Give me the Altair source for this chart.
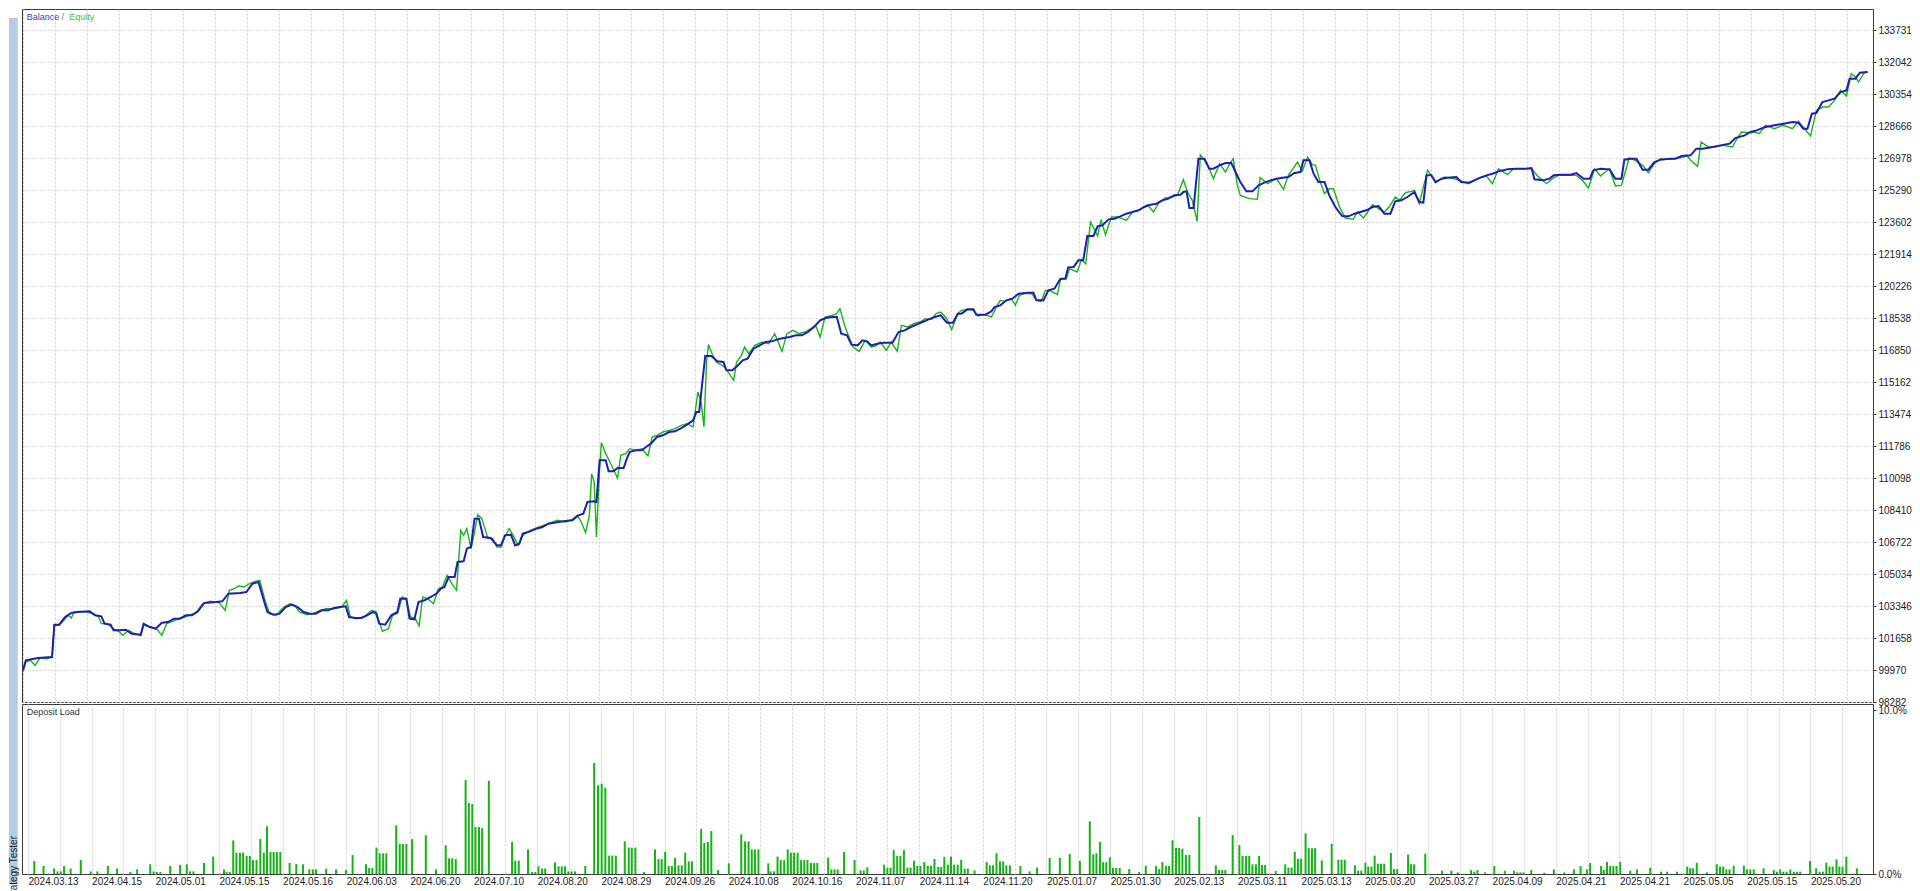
import altair as alt
import pandas as pd

# ---------------- data ----------------
x_labels = ["2024.03.13", "2024.04.15", "2024.05.01", "2024.05.15", "2024.05.16", "2024.06.03",
            "2024.06.20", "2024.07.10", "2024.08.20", "2024.08.29", "2024.09.26", "2024.10.08",
            "2024.10.16", "2024.11.07", "2024.11.14", "2024.11.20", "2025.01.07", "2025.01.30",
            "2025.02.13", "2025.03.11", "2025.03.13", "2025.03.20", "2025.03.27", "2025.04.09",
            "2025.04.21", "2025.04.21", "2025.05.05", "2025.05.15", "2025.05.20"]

y_ticks = [98282, 99970, 101658, 103346, 105034, 106722, 108410, 110098, 111786, 113474,
           115162, 116850, 118538, 120226, 121914, 123602, 125290, 126978, 128666, 130354,
           132042, 133731]

load_ticks = [0, 10]

bal_deal = [0, 0.9, 4.7, 9.1, 9.8, 11.3, 13.2, 15.1, 17, 20.8, 22.6, 24.5, 25.5, 27.4, 28.3, 30.2,
            32.1, 34, 36.8, 37.7, 39.6, 41.5, 43.4, 45.3, 47.2, 49.1, 50.9, 52.8, 54.7, 56.6, 60.4,
            62.3, 64.2, 67.9, 69.8, 71.7, 73.6, 74.5, 75.5, 76.4, 78.3, 80.2, 82.1, 84, 85.8, 87.7,
            89.6, 91.5, 93.4, 95.3, 97.2, 99.1, 100.9, 101.9, 103.8, 105.7, 107.5, 109.4, 110.4,
            111.3, 113.2, 115.1, 117, 117.9, 119.8, 120.8, 122.3, 123.6, 125.5, 127.4, 129.2,
            130.6, 131.7, 133, 134.9, 135.8, 137.7, 138.7, 140, 141.1, 142.5, 143.8, 146.2, 148.1,
            149.4, 150.6, 152.5, 153.8, 155.1, 156.2, 158.5, 160.4, 162.3, 164.2, 166, 168.9,
            171.7, 173.6, 175.1, 176.4, 178.3, 179.2, 180.2, 182.1, 183, 184.5, 185.8, 187.7,
            188.7, 189.6, 191.5, 193.4, 194.7, 196.2, 198.1, 200, 201.9, 203.8, 205.7, 207.5,
            209.4, 210.4, 211.3, 212.3, 213.2, 215.1, 217, 218.9, 219.8, 221.7, 223.6, 224.9,
            226.4, 228.3, 230.2, 232.1, 234, 235.8, 237.7, 239.6, 241.5, 243.4, 245.3, 247.2,
            249.1, 250.9, 252.8, 254.3, 255.7, 257.5, 258.9, 260.8, 262.3, 263.8, 265.1, 267,
            268.9, 271.7, 273.6, 275.5, 277.4, 279.2, 281.1, 283, 284.9, 286.8, 288.7, 290.6,
            292.1,
            293.25, 295.1, 297, 297.9, 300.75, 302.6, 303.6, 305.4, 307.3, 309.2, 311.1, 313.9,
            315.75, 316.7, 318.9, 320.4, 322.3, 324.2, 325.7, 326.6, 328.3, 329.8, 331.3, 332.6,
            334.5, 335.8, 337.3, 339.2, 341.1, 342.9, 344.8, 346.7, 348.6, 350.4, 352.3, 354.2,
            356.1, 357.9, 359.8, 361.7, 362.6, 363.6, 364.5, 365.8, 367.3, 369.2, 370.7, 372,
            373.9, 375.75, 377.6, 378.9, 380.4, 382.3, 384.2, 386.1, 387.9, 389.8, 391.7, 393.6,
            395.4, 397.3, 399.2, 400.1, 402, 403.3, 404.8, 406.7, 408.2, 410.1, 412.3, 414.2,
            416.1, 417.9, 419.8, 421.7, 423.6, 425.4, 427.3, 428.8, 430.7, 432.6, 434.8, 436.3,
            437.6, 438.6, 440.1, 441.4, 443.3, 445.1, 447.9, 449.4, 451.7, 453.6, 455.4, 457.3,
            459.2, 461.1, 463.9, 466.7, 469.5, 471.4, 472.3, 475.1, 477, 478.3, 480.75, 483.6,
            485.4, 487.7, 489.6, 490.7, 493, 495.8, 497.6, 499.5, 500.4, 502.3, 504.2, 506.1,
            507.9, 509.8, 511.7, 514.5, 516.4, 518.3, 521.1, 522.9, 524.8, 527.6, 530.4, 533.3,
            535.1, 538, 539.8, 541.7, 544.5, 547.3, 550.1, 552.95, 554.8, 556.3, 557.6, 559,
            560.4, 562.3, 564.2, 566.1, 567.95, 569.8, 570.8, 572.6, 574, 576.4]

bal_value = [99952, 100480, 100603, 100656, 102361, 102361, 102766, 102977, 103030, 103065, 102854,
             102801, 102414, 102361, 102062, 102062, 102098, 101887, 101834, 102414, 102238,
             102150, 102467, 102502, 102678, 102678, 102854, 102854, 103065, 103504, 103557,
             103592, 103997, 104032, 104084, 104524, 104612, 104084, 103504, 103030, 102889,
             102941, 103293, 103416, 103293, 103030, 102941, 102941, 103117, 103117, 103240,
             103293, 103328, 102766, 102713, 102713, 102854, 103030, 102941, 102414, 102361,
             102854, 103030, 103733, 103733, 102678, 102643, 103557, 103645, 103821, 103997,
             104260, 104348, 104876, 104876, 105667, 105702, 106370, 106458, 107953, 107953,
             106986, 106933, 106546, 106546, 107074, 107109, 106546, 106634, 107162, 107285,
             107425, 107513, 107689, 107742, 107812, 107865, 108129, 108217, 108832, 108867,
             108832, 111030, 111030, 110450, 110450, 110625, 110625, 111118, 111470, 111557,
             111557, 111733, 111909, 112261, 112349, 112524, 112559, 112735, 112911, 113140,
             113579, 113579, 115162, 116533, 116533, 116252, 116217, 115777, 115777, 116076,
             116305, 116393, 116920, 117096, 117272, 117307, 117412, 117483, 117535, 117623,
             117623, 117799, 118063, 118414, 118538, 118590, 118608, 117711, 117623, 117131,
             117096, 117359, 117307, 117096, 117184, 117237, 117237, 117799, 117887, 118063,
             118186, 118327, 118467, 118590, 118678, 118292, 118292, 118766,
             118767, 118995, 118995, 118714, 118714, 118890, 119118, 119206, 119470, 119558,
             119822, 119874, 119874, 119470, 119470, 119998, 120086, 120613, 120613, 121211,
             121229, 121580, 121580, 122864, 122864, 123374, 123426, 123743, 123778, 123901,
             124042, 124130, 124218, 124394, 124517, 124569, 124745, 124833, 125009, 125044,
             125185, 125220, 124341, 124341, 126943, 126943, 126415, 126415, 126591, 126714,
             126714, 126239, 125712, 125220, 125220, 125536, 125677, 125800, 125888, 125941,
             125976, 126187, 126239, 126855, 126855, 126152, 125712, 125712, 125009, 124394,
             123901, 123901, 124042, 124130, 124218, 124394, 124446, 124042, 124042, 124692,
             124745, 124921, 125185, 124657, 124622, 126064, 126064, 125712, 125888, 125941,
             125976, 125712, 125677, 125800, 125941, 126064, 126152, 126275, 126380, 126415,
             126415, 126450, 125853, 125800, 125888, 126064, 126099, 126099, 126187, 125888,
             125888, 126327, 126415, 126380, 125888, 125888, 126890, 126943, 126943, 126363,
             126363, 126767, 126890, 126943, 126943, 127084, 127119, 127470, 127470, 127541,
             127646, 127734, 128033, 128173, 128350, 128437, 128613, 128701, 128789, 128877,
             128842, 128525, 128525, 129317, 129352, 129932, 130020, 130108, 130459, 130547,
             131163, 131163, 131479, 131514]

eq_deal = [0, 0.9, 2.3, 3.8, 5.3, 7.5, 9.1, 9.8, 11.3, 12.8, 14.2, 15.1, 16, 17.9, 19.8, 21.7, 23.6,
           24.5, 26.4, 28.3, 30.2, 31.1, 33, 34.9, 36.8, 37.7, 40, 41.9, 43.4, 44.9, 46.8, 49.1,
           50.6, 52.5, 54.3, 56.2, 58.5, 61.3, 63.2, 64.5, 66, 67.5, 69.1, 70.75, 72.6, 74, 75.5,
           77, 79.2, 81.5, 83.4, 84.9, 86.4, 88.7, 90.6, 92.8, 94.7, 97.2, 99.6, 101.1, 102.3,
           104.2, 106.6, 108.9, 110.4, 112.3, 114.2, 115.5, 117, 118.5, 119.8, 121.1, 122.6,
           123.8, 124.9, 126.4, 128.3, 129.8, 131.1, 132.5, 134, 135.5, 136.8, 137.7, 138.7, 140,
           140.9, 142.1, 143.4, 145.3, 146.8, 148.1, 149.4, 150.6, 151.9, 153.2, 154.7, 156.2,
           158.5, 161.3, 164.2, 167, 169.4, 171.7, 173.2, 174.5, 175.8, 177, 177.7, 178.5, 179.2,
           180.2, 180.75, 182.1, 183.4, 184.9, 185.8, 186.8, 188.3, 189.6, 191.5, 193.4, 195.3,
           196.6, 198.1, 200, 201.9, 203.8, 205.7, 207.5, 209.4, 210.9, 211.9, 212.8, 213.6,
           214.2, 215.1, 216.6, 218.5, 219.8, 222.1, 223, 224.5, 225.5, 226.8, 228.7, 231.1, 233,
           234.9, 235.8, 237.2, 238.7, 240.6, 242.5, 244.3, 246.2, 247.7, 249.1, 250.6, 252.8,
           254.3, 255.3, 256.6, 257.5, 259.4, 261.3, 263.2, 265.1, 266.4, 267.9, 269.8, 271.3,
           273.2, 274.5, 276.4, 278.3, 280.2, 282.1, 284, 285.3, 286.8, 288.7, 290.2, 292.1,
           293.25, 295.1, 297, 298.3, 300.75, 302.6, 303.9, 305.4, 306.9, 308.8, 310.1, 311.4,
           312.9, 315.2, 316.7, 318.2, 319.5, 321.4, 323.25, 324.2, 326.1, 327, 329.4, 330.75,
           332.1, 333.6, 334.7, 335.8, 336.9, 338.25, 340.1, 342, 343.5, 344.8, 346.7, 348.6,
           351.4, 353.25, 355.1, 357, 358.9, 360.75, 362.6, 363.9, 365.4, 366.9, 367.9, 369.2,
           370.7, 372, 373.9, 375.75, 377.1, 378.2, 379.5, 380.4, 383.25, 385.7, 386.6, 388.9,
           391.7, 393.9, 395.4, 398.25, 399.75, 401.4, 402.9, 403.9, 405.2, 406.7, 408.2, 409.5,
           411.4, 413.25, 415.7, 417, 418.9, 420.2, 421.7, 423.6, 425.4, 426.9, 428.8, 430.1,
           432, 433.9, 434.8, 436.3, 438.9, 440.1, 441.4, 444.2, 447, 448.9, 451.7, 454.5, 457.3,
           459.2, 461.1, 463.9, 465.75, 468.6, 471.4, 473.3, 476.1, 477.95, 479.8, 482.6, 485.4,
           487.3, 489.2, 491.1, 492.95, 494.4, 495.75, 497.6, 499.5, 501.9, 503.8, 506.1, 507.9,
           509.8, 511.7, 514.5, 517.3, 520.1, 521.1, 523.3, 524.4, 526.7, 528.6, 531.4, 534.2,
           535.7, 537, 539.8, 541.3, 542.6, 544.5, 547.3, 550.1, 552.95, 554.8, 556.7, 558.6,
           560.4, 562.3, 564.2, 566.1, 567.95, 569.8, 571.3, 572.6, 573.6, 575.4, 576.4]

eq_value = [99865, 100392, 100480, 100216, 100603, 100568, 100656, 102326, 102326, 102590, 102854,
            102713, 103029, 103064, 103029, 102942, 102766, 102414, 102414, 102150, 101974, 101799,
            102062, 101887, 101799, 102326, 102238, 102115, 101799, 102414, 102537, 102713, 102766,
            102889, 103029, 103469, 103592, 103522, 103117, 104172, 104260, 104401, 104348, 104524,
            104647, 104700, 103733, 102941, 102854, 103293, 103469, 103381, 103029, 102889, 102941,
            103117, 103205, 103205, 103293, 103645, 102766, 102678, 102766, 103117, 103029, 102010,
            102150, 102854, 102941, 103821, 103733, 102766, 102678, 102291, 103821, 103733, 103469,
            104260, 104348, 104964, 104524, 104172, 107337, 107074, 107425, 106370, 107074, 108164,
            107953, 106898, 106898, 106458, 106458, 106986, 107425, 107074, 106546, 107074, 107337,
            107513, 107689, 107865, 107777, 107918, 108129, 107777, 107214, 108129, 110326, 109887,
            106986, 110590, 111962, 111381, 110942, 110414, 110098, 111293, 111381, 111645, 111557,
            111645, 111258, 112261, 112349, 112524, 112612, 112700, 112876, 112964, 112788, 114634,
            114107, 112788, 116217, 117131, 116744, 116217, 116041, 115830, 115250, 116217, 116568,
            117008, 116656, 117096, 117272, 117184, 117711, 117359, 116779, 117711, 117887, 117711,
            117799, 117975, 118151, 117535, 118590, 118678, 118766, 119030, 118239, 117799, 117008,
            116779, 117359, 117008, 117061, 117272, 116832, 117272, 116779, 118151, 118063, 118239,
            118327, 118502, 118467, 118766, 118854, 118502, 117922, 118766,
            118943, 118978, 118943, 118644, 118714, 118591, 119031, 119470, 119417, 119558, 119206,
            119734, 119822, 119822, 119470, 119417, 119998, 119945, 119769, 120578, 120613, 121141,
            120965, 121615, 121404, 123602, 123250, 122864, 123725, 122934, 123866, 123866, 123778,
            123690, 124130, 124218, 124517, 124130, 124657, 124868, 124921, 125009, 125835, 125185,
            124745, 123637, 127154, 126855, 126415, 125888, 126679, 126239, 126679, 126943, 125536,
            125009, 124833, 124798, 125941, 125624, 125888, 125325, 126064, 126767, 126275, 127031,
            126626, 126591, 125800, 125097, 125360, 125360, 124394, 123813, 123743, 124130, 123813,
            124130, 124517, 124305, 124130, 124394, 124921, 124745, 125149, 125220, 125273, 124569,
            126328, 126064, 125677, 125976, 125888, 125800, 125624, 125888, 126029, 125624, 126415,
            126099, 126415, 126415, 126415, 126029, 125624, 125888, 126064, 126064, 126064, 125800,
            125396, 126415, 126029, 126239, 126415, 125501, 125536, 126978, 126855, 126591, 126204,
            126679, 126943, 126908, 126978, 127084, 126855, 126539, 127822, 127558, 127558, 127646,
            127558, 128033, 128350, 128315, 128350, 128262, 128701, 128525, 128701, 128525, 128912,
            128525, 128139, 129492, 129668, 129668, 130020, 130547, 130249, 131427, 131251, 130987,
            131479, 131514]

load_deal = [2.0, 4.9, 8.2, 9.3, 10.3, 11.35, 13.4, 16.6, 19.7, 21.8, 25.1, 28.0, 32.2, 34.3, 38.4,
             39.5, 40.5, 41.6, 44.7, 47.8, 49.9, 50.9, 52.0, 55.3, 58.2, 61.6, 62.4, 63.4, 64.5,
             65.5, 66.6, 67.6, 68.7, 69.7, 70.7, 71.8, 73.0, 74.1, 75.1, 76.2, 77.2, 78.2, 79.3,
             82.2, 84.3, 86.4, 88.4, 89.5, 90.5, 93.7, 96.8, 99.9, 102.0, 106.2, 107.2, 108.2,
             109.5, 110.5, 111.6, 112.6,
             115.7, 116.8, 117.8, 118.9, 120.7, 125.0, 128.2, 131.25, 132.3, 133.3, 134.4, 137.5,
             138.5, 139.6, 140.6, 141.7, 142.7, 144.8, 152.1, 153.1, 154.2, 157.1, 158.4, 159.4,
             160.4, 161.5, 162.5, 165.6, 166.7, 167.7, 168.75, 169.8, 170.8, 171.9,
             175.1, 177.9, 179.1, 180.25, 181.4, 182.6, 183.6, 184.7, 187.5, 188.75, 189.7, 190.85,
             193.6, 197.0, 198.1, 199.1, 200.2, 201.3, 202.3, 203.3, 204.4, 205.4, 206.5, 207.6,
             208.6, 211.5, 212.5, 213.6, 214.7, 216.8, 220.2, 224.1, 225.3, 226.4, 227.4, 228.4,
             229.5, 232.6, 233.3, 234.4, 235.5, 236.5, 237.6, 238.7, 239.7, 240.7, 241.8, 242.9,
             243.9, 244.9, 246.0, 247.0, 248.0, 251.4, 252.4, 253.4, 254.4, 256.4, 259.7, 261.6,
             262.6, 263.7, 269.0, 270.0, 271.0, 272.0, 273.1, 274.1, 275.2, 276.3, 277.3, 278.4,
             279.4, 280.4, 281.6, 282.7, 283.7, 284.8, 286.0, 286.9, 287.9, 289.0, 290.0, 291.0,
             292.1, 293.2, 294.3, 295.3, 297.4, 301.2, 302.2, 303.2, 304.3, 305.4, 306.4, 307.4,
             308.5, 311.8, 314.7, 317.0, 321.0, 324.2, 327.3, 330.5, 333.6, 334.7, 335.7, 336.8,
             337.8, 338.8, 339.9, 340.9, 341.9, 343.0, 346.0, 349.1, 351.2, 354.4, 355.4, 356.4,
             357.5, 358.5, 359.6, 360.7, 361.7, 362.7, 363.8, 364.9, 368.0, 373.2, 374.2, 375.2,
             376.2, 378.5, 380.6, 381.6, 382.7, 383.7, 384.7, 385.8, 386.8,
             387.7, 388.7, 392.0, 395.0, 396.0, 397.0, 398.0, 399.0, 400.0, 401.4, 402.4, 403.4,
             404.4, 406.5, 409.6, 411.7, 412.7, 413.7, 416.9, 417.9, 418.9, 420.2, 421.1, 422.1,
             423.1, 424.1, 425.1, 426.1, 428.2, 429.2, 430.2, 433.6, 434.5, 435.5, 439.0, 444.3,
             447.2, 449.2, 453.4, 454.4, 455.4, 457.8, 460.7, 464.0, 466.9, 467.9, 468.9, 469.9,
             472.3, 476.4, 479.4, 482.7, 485.7, 487.8, 489.8, 490.8, 494.25, 495.1, 496.1, 497.1,
             498.1, 499.1, 500.25, 503.4, 505.5, 509.7, 513.1, 515.0, 518.1, 521.3, 522.2, 523.1,
             524.3, 527.5, 530.6, 531.6, 532.6, 533.6, 534.6, 535.9, 539.1, 540.1, 541.1, 542.2,
             545.3, 548.5, 549.5, 550.5, 551.5, 552.5, 553.7, 554.8, 555.8, 556.8, 559.9, 561.8,
             562.9, 563.9, 565.0, 566.0, 567.0, 568.2, 569.1, 570.1, 571.3, 574.6]

load_pct = [0.79, 0.49, 0.33, 0.16, 0.16, 0.49, 0.33, 0.85, 0.16, 0.16, 0.49, 0.33, 0.12, 0.28, 0.59,
            0.16, 0.12, 0.12, 0.49, 0.55, 0.59, 0.16, 0.16, 0.67, 1.06, 0.28, 0.12, 0.12, 2.05, 1.30,
            1.30, 1.30, 1.10, 1.10, 0.85, 0.85, 2.13, 1.30, 2.91, 1.34, 1.34, 1.34, 1.34, 0.67, 0.61,
            0.59, 0.28, 0.28, 0.28, 0.33, 0.28, 0.24, 1.16, 0.59, 0.37, 0.37, 1.61, 1.26, 1.26, 1.26,
            2.97, 1.83, 1.83, 1.83, 2.13, 2.36, 0.28, 1.75, 0.96, 0.96, 0.91, 5.73, 4.33, 4.27, 2.87,
            2.87, 2.80, 5.69, 1.95, 0.81, 0.81, 1.50, 0.12, 0.12, 0.47, 0.33, 0.33, 0.71, 0.47, 0.47,
            0.47, 0.16, 0.16, 0.16,
            0.49, 6.77, 5.41, 5.51, 5.26, 1.12, 1.12, 1.12, 1.99, 1.61, 1.61, 1.61, 0.12, 1.50, 0.91,
            0.91, 1.34, 0.49, 0.49, 0.98, 0.53, 0.53, 1.30, 0.77, 0.77, 2.76, 1.89, 1.95, 2.62, 0.24,
            0.65, 2.42, 1.99, 1.99, 1.50, 1.50, 1.50, 0.65, 0.16, 0.16, 1.06, 0.85, 0.85, 1.50, 1.30,
            1.30, 1.30, 0.85, 0.85, 0.85, 0.67, 0.67, 0.67, 1.00, 0.28, 0.28, 0.28, 1.34, 0.85, 0.22,
            0.22, 0.41, 0.57, 0.39, 0.39, 1.46, 1.10, 1.10, 1.46, 0.39, 0.39, 0.81, 0.49, 0.49, 0.73,
            0.49, 0.49, 0.91, 0.43, 0.43, 1.04, 0.57, 1.06, 0.57, 0.57, 0.87, 0.33, 0.33, 0.22, 0.73,
            0.53, 0.53, 1.26, 0.77, 0.77, 0.53, 0.53, 0.49, 0.16, 0.39, 0.98, 0.98, 1.22, 0.81, 3.21,
            1.20, 1.26, 1.95, 0.73, 0.73, 1.02, 0.37, 0.37, 0.37, 0.30, 0.12, 0.49, 0.49, 0.30, 0.73,
            0.49, 0.49, 2.05, 1.59, 1.59, 1.54, 1.16, 1.16, 3.48, 0.53, 0.24, 0.24, 0.24, 2.38, 1.77,
            1.10, 1.10, 1.10, 0.59, 0.59, 1.10,
            0.55, 0.55, 0.18, 0.59, 0.39, 0.39, 1.36, 0.93, 0.93, 2.48, 1.57, 1.57, 1.57, 0.83, 1.85,
            0.87, 0.87, 0.87, 0.53, 0.20, 0.20, 0.69, 0.45, 0.45, 1.12, 0.63, 0.63, 0.63, 1.28, 0.30,
            0.30, 1.18, 0.59, 0.59, 1.24, 0.20, 0.20, 0.10, 0.24, 0.14, 0.24, 0.10, 0.49, 0.20, 0.20,
            0.10, 0.10, 0.10, 0.24, 0.08, 0.28, 0.10, 0.28, 0.49, 0.28, 0.67, 0.49, 0.24, 0.73, 0.49,
            0.49, 0.49, 0.73, 0.20, 0.28, 0.39, 0.14, 0.14, 0.14, 0.45, 0.35, 0.35, 0.69, 0.10, 0.59,
            0.45, 0.45, 0.28, 0.28, 0.51, 0.51, 0.28, 0.28, 0.28, 0.35, 0.24, 0.14, 0.28, 0.14, 0.14,
            0.28, 0.14, 0.14, 0.14, 0.79, 0.35, 0.14, 0.14, 0.69, 0.45, 0.45, 0.89, 0.45, 0.45, 1.06,
            0.35]

# ---------------- frames ----------------
bal = pd.DataFrame({"deal": bal_deal, "value": bal_value, "seq": list(range(len(bal_deal)))})
eq = pd.DataFrame({"deal": eq_deal, "value": eq_value, "seq": list(range(len(eq_deal)))})
load = pd.DataFrame({"deal": load_deal, "pct": load_pct})
one = pd.DataFrame({"k": [0]})

FONT = "Liberation Sans"
GRID = "#cdcdcd"
TXT = "#1c1c1c"
W = 1851
H_TOP = 693
H_BOT = 170

grid_vals = list(range(0, 571, 10))
lab_js = "[" + ",".join("'" + s + "'" for s in x_labels) + "]"
x_label_expr = "datum.value % 20 === 0 ? " + lab_js + "[datum.value / 20] : ''"

xs = alt.Scale(domain=[-0.3, 578.1], nice=False, zero=False)
ys = alt.Scale(domain=[98282, 134839], nice=False, zero=False)
ls = alt.Scale(domain=[0, 10.366], nice=False, zero=False)

top_x_axis = alt.Axis(values=grid_vals, labels=False, ticks=False, domain=False, grid=True,
                      gridColor=GRID, gridDash=[2, 2], gridWidth=1, title=None)
top_y_axis = alt.Axis(orient="right", values=y_ticks, format="d", grid=True, gridColor=GRID,
                      gridDash=[2, 2], gridWidth=1, domain=False, ticks=True, tickSize=3,
                      tickColor="#333333", labelPadding=2, labelFont=FONT, labelFontSize=10,
                      labelColor=TXT, labelOverlap=False, labelBound=False, labelFlush=False,
                      title=None)

X_top = alt.X("deal:Q", scale=xs, axis=top_x_axis)
Y_top = alt.Y("value:Q", scale=ys, axis=top_y_axis)

eq_line = alt.Chart(eq).mark_line(color="#19b419", strokeWidth=1.4).encode(
    x=X_top, y=Y_top, order=alt.Order("seq:Q"))
bal_line = alt.Chart(bal).mark_line(color="#1e1eb4", strokeWidth=2).encode(
    x=X_top, y=Y_top, order=alt.Order("seq:Q"))

strip_top = alt.Chart(one).mark_rect(color="#b4cce6").encode(
    x=alt.value(-13), x2=alt.value(-4.3), y=alt.value(9), y2=alt.value(H_TOP + 2))

t_bal = alt.Chart(one).mark_text(text="Balance", align="left", baseline="middle", font=FONT,
                                 fontSize=9, color="#3a3ac8").encode(
    x=alt.value(4.7), y=alt.value(7.5))
t_sep = alt.Chart(one).mark_text(text="/", align="left", baseline="middle", font=FONT,
                                 fontSize=9, color="#7a7a7a").encode(
    x=alt.value(39.5), y=alt.value(7.5))
t_eq = alt.Chart(one).mark_text(text="Equity", align="left", baseline="middle", font=FONT,
                                fontSize=9, color="#3cbf3c").encode(
    x=alt.value(47.3), y=alt.value(7.5))

top = alt.layer(strip_top, eq_line, bal_line, t_bal, t_sep, t_eq).properties(width=W, height=H_TOP)

bot_x_axis = alt.Axis(values=grid_vals, labelExpr=x_label_expr, ticks=False, domain=False,
                      grid=True, gridColor=GRID, gridDash=[2, 2], gridWidth=1,
                      labelAlign="left", labelBaseline="top", labelPadding=2, labelFont=FONT,
                      labelFontSize=10, labelColor=TXT, labelOverlap=False, labelFlush=False,
                      labelBound=False, title=None)
bot_y_axis = alt.Axis(orient="right", values=load_ticks,
                      labelExpr="format(datum.value, '.1f') + '%'", grid=False, domain=False,
                      ticks=True, tickSize=3, tickColor="#333333", labelPadding=2, labelFont=FONT,
                      labelFontSize=10, labelColor=TXT, labelOverlap=False, labelFlush=False,
                      title=None)

bars = alt.Chart(load).mark_bar(size=2, color="#14b414", orient="vertical").encode(
    x=alt.X("deal:Q", scale=xs, axis=bot_x_axis),
    y=alt.Y("pct:Q", scale=ls, axis=bot_y_axis, stack=None))

strip_bot = alt.Chart(one).mark_rect(color="#b4cce6").encode(
    x=alt.value(-13), x2=alt.value(-4.3), y=alt.value(-2), y2=alt.value(H_BOT + 10))
t_tester = alt.Chart(one).mark_text(text="Strategy Tester", angle=270, align="right",
                                    baseline="middle", font=FONT, fontSize=10,
                                    color="#202020").encode(
    x=alt.value(-8.2), y=alt.value(132))
t_load = alt.Chart(one).mark_text(text="Deposit Load", align="left", baseline="middle",
                                  font=FONT, fontSize=9, color="#333333").encode(
    x=alt.value(4.7), y=alt.value(7.5))

bottom = alt.layer(strip_bot, bars, t_tester, t_load).properties(width=W, height=H_BOT)

chart = alt.vconcat(top, bottom, spacing=2, bounds="flush").properties(
    padding=0, background="white"
).configure_view(stroke="#3a3a3a", strokeWidth=1)

chart.save("out.html", embed_options={"renderer": "svg", "actions": False})
